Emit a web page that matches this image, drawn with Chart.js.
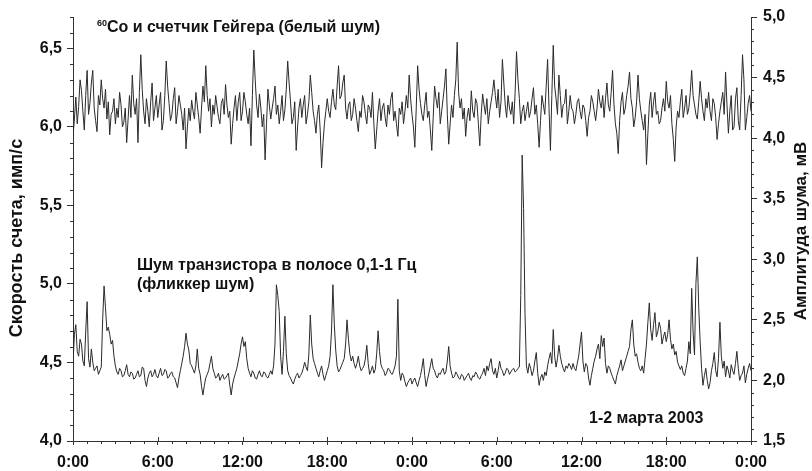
<!DOCTYPE html>
<html>
<head>
<meta charset="utf-8">
<script src="https://cdn.jsdelivr.net/npm/chart.js@4.4.1/dist/chart.umd.min.js"></script>
<style>
  html, body { margin: 0; padding: 0; background: #fff; }
  #wrap { width: 812px; height: 471px; position: relative; }
</style>
</head>
<body>
<div id="wrap"><canvas id="chart"></canvas></div>
<script>
// sampling step of both records, hours (0:00 1 March .. 0:00 3 March)
const STEP_HOURS = 0.1;
const xTickLabels = ['0:00', '6:00', '12:00', '18:00', '0:00', '6:00', '12:00', '18:00', '0:00'];
const leftTicks = [4.0, 4.5, 5.0, 5.5, 6.0, 6.5];
const rightTicks = [1.5, 2.0, 2.5, 3.0, 3.5, 4.0, 4.5, 5.0];

// 60Co + Geiger counter, count rate (imp/s), left axis
const countRate = [
  5.94,6.05, 6.19,6.02, 6.13,6.30, 6.23,6.10, 5.98,6.20, 6.36,6.08, 6.15,6.28, 6.36,6.12, 6.04,5.97, 6.20,6.14,
  6.30,6.18, 6.12,6.24, 6.05,6.16, 5.95,6.08, 6.10,6.18, 6.02,6.12, 6.06,6.22, 6.14,6.00, 6.03,6.12, 5.90,6.05,
  6.20,6.06, 6.33,6.15, 6.08,6.18, 5.90,6.22, 6.46,6.24, 6.10,6.02, 6.18,6.10, 6.00,6.16, 6.28,6.04, 6.12,6.20,
  6.06,6.14, 6.22,5.98, 6.04,6.20, 6.42,6.26, 6.15,6.04, 6.08,6.18, 6.25,6.02, 6.10,6.20, 6.14,6.08, 5.98,6.12,
  5.86,6.00, 6.12,6.04, 6.17,6.10, 6.05,6.22, 6.14,6.06, 5.96,6.12, 6.26,6.16, 6.39,6.20, 6.10,6.18, 6.00,6.14,
  6.08,6.20, 6.13,6.06, 6.02,6.15, 6.18,6.08, 6.27,6.14, 6.06,6.10, 5.89,6.02, 6.12,6.20, 6.04,6.16, 6.22,6.04,
  6.10,6.22, 6.16,6.08, 6.02,6.12, 5.88,6.20, 6.49,6.30, 6.14,6.06, 6.21,6.12, 6.00,6.08, 5.79,6.02, 6.24,6.14,
  6.05,6.12, 6.18,6.26, 6.08,6.14, 6.02,6.10, 6.20,6.04, 6.11,6.24, 6.42,6.28, 6.16,6.02, 6.06,6.16, 5.85,6.00,
  6.12,6.18, 6.06,6.14, 6.20,6.02, 6.08,6.16, 6.33,6.22, 6.10,6.04, 5.96,6.08, 6.14,5.98, 5.74,5.90, 6.02,6.10,
  6.18,6.10, 6.06,6.16, 6.24,6.14, 6.11,6.26, 6.39,6.18, 6.20,6.28, 6.33,6.12, 6.05,6.14, 6.16,6.04, 6.08,6.18,
  6.12,6.04, 5.97,6.10, 6.06,6.20, 6.16,6.08, 6.02,6.14, 6.12,6.06, 6.22,6.02, 5.86,5.98, 6.10,6.18, 6.04,6.12,
  6.15,6.06, 6.00,6.14, 6.08,6.18, 6.22,6.04, 6.10,6.02, 5.94,6.12, 6.08,6.16, 6.02,6.10, 6.20,6.12, 6.33,6.18,
  6.08,6.00, 5.87,6.12, 6.39,6.24, 6.15,6.08, 6.04,6.14, 6.22,6.06, 6.10,5.98, 5.85,6.06, 6.26,6.18, 6.12,6.22,
  6.02,6.10, 6.18,6.26, 6.37,6.08, 5.89,6.02, 6.14,6.06, 6.20,6.30, 6.54,6.22, 6.12,6.18, 6.05,6.12, 5.94,6.06,
  6.12,6.04, 6.23,6.10, 6.06,6.18, 6.15,6.02, 5.88,6.08, 6.21,6.14, 6.08,6.18, 6.02,6.10, 6.16,6.22, 6.30,6.20,
  6.12,6.24, 6.06,6.16, 6.43,6.28, 6.14,6.06, 6.20,6.12, 6.08,6.16, 6.02,6.22, 6.48,6.30, 6.18,6.02, 6.10,6.14,
  6.04,6.10, 6.16,6.06, 6.10,6.18, 6.25,6.08, 6.14,6.02, 5.87,6.04, 6.20,6.14, 6.08,6.26, 6.43,6.12, 5.85,6.20,
  6.52,6.26, 6.18,6.08, 6.33,6.20, 6.06,6.14, 6.15,6.24, 6.02,6.10, 6.20,6.12, 6.10,6.02, 6.08,6.16, 6.18,6.10,
  6.05,6.14, 6.12,6.04, 5.94,6.06, 6.10,6.20, 6.16,6.10, 6.04,6.12, 6.24,6.16, 6.12,6.20, 6.06,6.18, 6.28,6.14,
  6.10,6.22, 6.36,6.14, 6.02,5.96, 5.83,6.04, 6.16,6.22, 6.08,6.12, 6.20,6.26, 6.35,6.18, 6.12,6.00, 6.06,6.16,
  6.33,6.18, 6.10,6.04, 5.98,6.08, 5.76,5.96, 6.14,6.22, 6.06,6.16, 6.22,6.08, 6.10,6.02, 6.04,6.12, 6.18,6.10,
  6.29,6.16, 6.12,6.20, 6.02,5.92, 5.78,6.00, 6.10,6.06, 6.16,6.24, 6.06,6.12, 6.20,6.08, 6.12,6.22, 6.36,6.20,
  6.14,6.08, 6.05,6.16, 6.29,6.18, 6.10,6.04, 6.18,6.12, 6.22,6.10, 6.04,6.18, 6.15,6.06, 5.92,6.02, 6.10,6.16,
  6.22,6.08, 6.35,6.14, 5.96,6.10, 6.20,5.98, 6.00,6.18, 6.25,6.04, 5.98,6.20, 6.46,6.30, 5.98,6.06, 6.15,6.20,
  6.10
];

// transistor noise 0.1-1 Hz, amplitude (mV), right axis
const transistorNoise = [
  2.14,2.38, 2.46,2.24, 2.20,2.34, 2.30,2.16, 2.12,2.40, 2.65,2.18, 2.11,2.26, 2.15,2.08, 2.10,2.12, 2.05,2.08,
  2.11,2.50, 2.78,2.60, 2.41,2.44, 2.38,2.30, 2.33,2.20, 2.12,2.07, 2.05,2.10, 2.08,2.03, 2.04,2.08, 2.13,2.05,
  2.03,2.07, 2.06,2.01, 2.02,2.05, 2.08,2.03, 2.04,2.11, 2.10,2.00, 1.95,2.02, 2.06,2.08, 2.03,2.05, 2.09,2.04,
  2.02,2.06, 2.10,2.04, 2.05,2.09, 2.08,2.02, 2.03,2.06, 2.07,2.03, 2.02,1.98, 1.94,2.02, 2.08,2.14, 2.20,2.28,
  2.39,2.30, 2.25,2.14, 2.12,2.09, 2.06,2.12, 2.26,2.10, 2.05,1.95, 1.88,1.96, 2.02,2.05, 2.08,2.14, 2.20,2.10,
  2.06,2.02, 2.03,2.06, 2.00,2.03, 2.05,2.01, 2.02,2.04, 2.06,1.96, 1.88,1.97, 2.02,2.06, 2.10,2.16, 2.22,2.30,
  2.36,2.28, 2.32,2.18, 2.10,2.06, 2.03,2.08, 2.06,2.02, 2.01,2.05, 2.08,2.04, 2.03,2.07, 2.06,2.03, 2.02,2.05,
  2.08,2.05, 2.12,2.30, 2.79,2.70, 2.57,2.20, 2.05,2.24, 2.53,2.22, 2.08,2.04, 2.02,1.99, 1.97,2.01, 2.04,2.06,
  2.02,2.04, 2.06,2.10, 2.15,2.11, 2.08,2.22, 2.54,2.30, 2.18,2.14, 2.10,2.06, 2.03,2.08, 2.12,2.05, 2.00,2.04,
  2.08,2.12, 2.20,2.40, 2.79,2.46, 2.25,2.12, 2.07,2.09, 2.12,2.15, 2.18,2.30, 2.50,2.34, 2.22,2.16, 2.20,2.14,
  2.10,2.14, 2.20,2.12, 2.08,2.10, 2.12,2.18, 2.29,2.14, 2.05,2.08, 2.12,2.06, 2.09,2.22, 2.41,2.24, 2.13,2.10,
  2.08,2.04, 2.06,2.10, 2.09,2.06, 2.05,2.08, 2.12,2.20, 2.67,2.08, 2.00,2.06, 2.04,1.99, 1.95,1.98, 2.00,2.02,
  1.97,2.00, 2.02,1.98, 1.95,2.00, 2.04,2.10, 2.18,2.04, 1.95,2.01, 2.06,2.12, 2.18,2.10, 2.08,2.04, 2.02,2.06,
  2.05,2.08, 2.10,2.05, 2.07,2.16, 2.28,2.12, 2.06,2.02, 2.03,2.07, 2.05,2.02, 2.01,2.05, 2.04,2.00, 2.02,2.04,
  2.06,2.02, 2.00,2.04, 2.03,2.07, 2.05,2.02, 2.01,2.04, 2.06,2.10, 2.04,2.12, 2.08,2.14, 2.18,2.08, 2.05,2.10,
  2.02,2.08, 2.16,2.10, 2.08,2.04, 2.06,2.10, 2.09,2.05, 2.07,2.09, 2.10,2.07, 2.08,2.10, 2.11,2.70, 3.86,3.42,
  2.55,2.12, 2.06,2.14, 2.10,2.04, 2.08,2.16, 2.23,2.06, 1.96,2.02, 2.05,2.00, 2.07,2.04, 2.12,2.18, 2.23,2.14,
  2.42,2.20, 2.11,2.18, 2.29,2.20, 2.14,2.10, 2.07,2.12, 2.10,2.14, 2.12,2.09, 2.14,2.10, 2.08,2.14, 2.20,2.30,
  2.40,2.16, 2.07,2.14, 2.12,2.02, 1.96,2.04, 2.10,2.16, 2.20,2.26, 2.30,2.18, 2.37,2.28, 2.35,2.14, 2.06,2.12,
  2.10,2.06, 2.03,2.00, 1.97,2.04, 2.08,2.12, 2.17,2.08, 2.12,2.16, 2.20,2.24, 2.28,2.42, 2.50,2.30, 2.20,2.22,
  2.15,2.10, 2.08,2.12, 2.06,2.18, 2.30,2.48, 2.64,2.42, 2.33,2.46, 2.56,2.36, 2.40,2.48, 2.43,2.30, 2.36,2.40,
  2.32,2.38, 2.50,2.34, 2.26,2.30, 2.21,2.24, 2.15,2.12, 2.09,2.12, 2.06,2.04, 2.10,2.16, 2.32,2.22, 2.76,2.40,
  2.21,2.80, 3.02,2.60, 2.32,2.10, 1.96,2.04, 2.10,2.00, 1.93,1.98, 2.08,2.14, 2.23,2.08, 2.03,2.18, 2.48,2.20,
  2.10,2.16, 2.03,2.12, 2.08,2.02, 2.13,2.08, 2.05,2.14, 2.24,2.10, 2.00,2.04, 2.06,2.12, 1.98,2.05, 2.10,2.14,
  2.08
];

const FONT = 'Liberation Sans, Arial, sans-serif';
const INK = '#111';
const AXIS = '#333';

function fmt(v) {
  return v.toFixed(1).replace('.', ',');
}

function toPoints(arr) {
  return arr.map((v, i) => ({ x: i * STEP_HOURS, y: v }));
}

// minor ticks, crossing major ticks, axis titles and notes
const extras = {
  id: 'extras',
  afterDraw(chart) {
    const ctx = chart.ctx;
    const a = chart.chartArea;
    const sx = chart.scales.x, sl = chart.scales.yL, sr = chart.scales.yR;
    ctx.save();
    ctx.strokeStyle = AXIS;
    ctx.lineWidth = 1;
    ctx.beginPath();
    for (let h = 0; h <= 48; h++) {
      const px = Math.round(sx.getPixelForValue(h)) + 0.5;
      if (h % 6 === 0) {
        ctx.moveTo(px, a.bottom - 4);
        ctx.lineTo(px, a.bottom);
      } else {
        ctx.moveTo(px, a.bottom);
        ctx.lineTo(px, a.bottom + 3);
      }
    }
    for (let k = 40; k <= 67; k++) {
      if (k % 5 === 0) continue;
      const py = Math.round(sl.getPixelForValue(k / 10)) + 0.5;
      ctx.moveTo(a.left - 3, py);
      ctx.lineTo(a.left, py);
    }
    for (let k = 15; k <= 50; k++) {
      if (k % 5 === 0) continue;
      const py = Math.round(sr.getPixelForValue(k / 10)) + 0.5;
      ctx.moveTo(a.right, py);
      ctx.lineTo(a.right + 3, py);
    }
    ctx.stroke();

    ctx.fillStyle = INK;
    ctx.textBaseline = 'alphabetic';
    ctx.textAlign = 'left';
    // notes
    ctx.font = 'bold 9px ' + FONT;
    ctx.fillText('60', 97, 26);
    ctx.font = 'bold 16px ' + FONT;
    ctx.fillText('Co и счетчик Гейгера (белый шум)', 107, 32);
    ctx.fillText('Шум транзистора в полосе 0,1-1 Гц', 137, 270);
    ctx.fillText('(фликкер шум)', 137, 289);
    ctx.fillText('1-2 марта 2003', 589, 423);

    // axis titles
    ctx.textAlign = 'center';
    ctx.save();
    ctx.translate(22, 238);
    ctx.rotate(-Math.PI / 2);
    ctx.font = 'bold 18px ' + FONT;
    ctx.fillText('Скорость счета, имп/с', 0, 0);
    ctx.restore();
    ctx.save();
    ctx.translate(806, 231);
    ctx.rotate(-Math.PI / 2);
    ctx.font = 'bold 17px ' + FONT;
    ctx.fillText('Амплитуда шума, мВ', 0, 0);
    ctx.restore();
    ctx.restore();
  }
};

const tickFont = { family: FONT, size: 16, weight: 'bold' };

new Chart(document.getElementById('chart'), {
  type: 'line',
  data: {
    datasets: [{
      data: toPoints(countRate),
      yAxisID: 'yL',
      borderColor: '#2a2a2a',
      borderWidth: 1,
      pointRadius: 0,
      tension: 0
    }, {
      data: toPoints(transistorNoise),
      yAxisID: 'yR',
      borderColor: '#2a2a2a',
      borderWidth: 1,
      pointRadius: 0,
      tension: 0
    }]
  },
  options: {
    responsive: true,
    maintainAspectRatio: false,
    animation: false,
    layout: { padding: { top: 17, left: 0, right: 0, bottom: 0 } },
    plugins: {
      legend: { display: false },
      tooltip: { enabled: false }
    },
    scales: {
      x: {
        type: 'linear',
        min: 0,
        max: 48,
        afterFit: s => { s.height = 30; },
        border: { color: AXIS, width: 1 },
        grid: { drawOnChartArea: false, tickLength: 4, color: AXIS },
        ticks: {
          stepSize: 6,
          autoSkip: false,
          maxRotation: 0,
          padding: 8,
          color: INK,
          font: tickFont,
          callback: v => xTickLabels[Math.round(v / 6)]
        }
      },
      yL: {
        position: 'left',
        min: 4.0,
        max: 6.7,
        afterFit: s => { s.width = 73; },
        afterBuildTicks: s => { s.ticks = leftTicks.map(v => ({ value: v })); },
        border: { color: AXIS, width: 1 },
        grid: { drawOnChartArea: false, tickLength: 6, color: AXIS },
        ticks: { padding: 5, color: INK, font: tickFont, callback: v => fmt(v) }
      },
      yR: {
        position: 'right',
        min: 1.5,
        max: 5.0,
        afterFit: s => { s.width = 61; },
        afterBuildTicks: s => { s.ticks = rightTicks.map(v => ({ value: v })); },
        border: { color: AXIS, width: 1 },
        grid: { drawOnChartArea: false, tickLength: 6, color: AXIS },
        ticks: { padding: 6, color: INK, font: tickFont, callback: v => fmt(v) }
      }
    }
  },
  plugins: [extras]
});
</script>
</body>
</html>
